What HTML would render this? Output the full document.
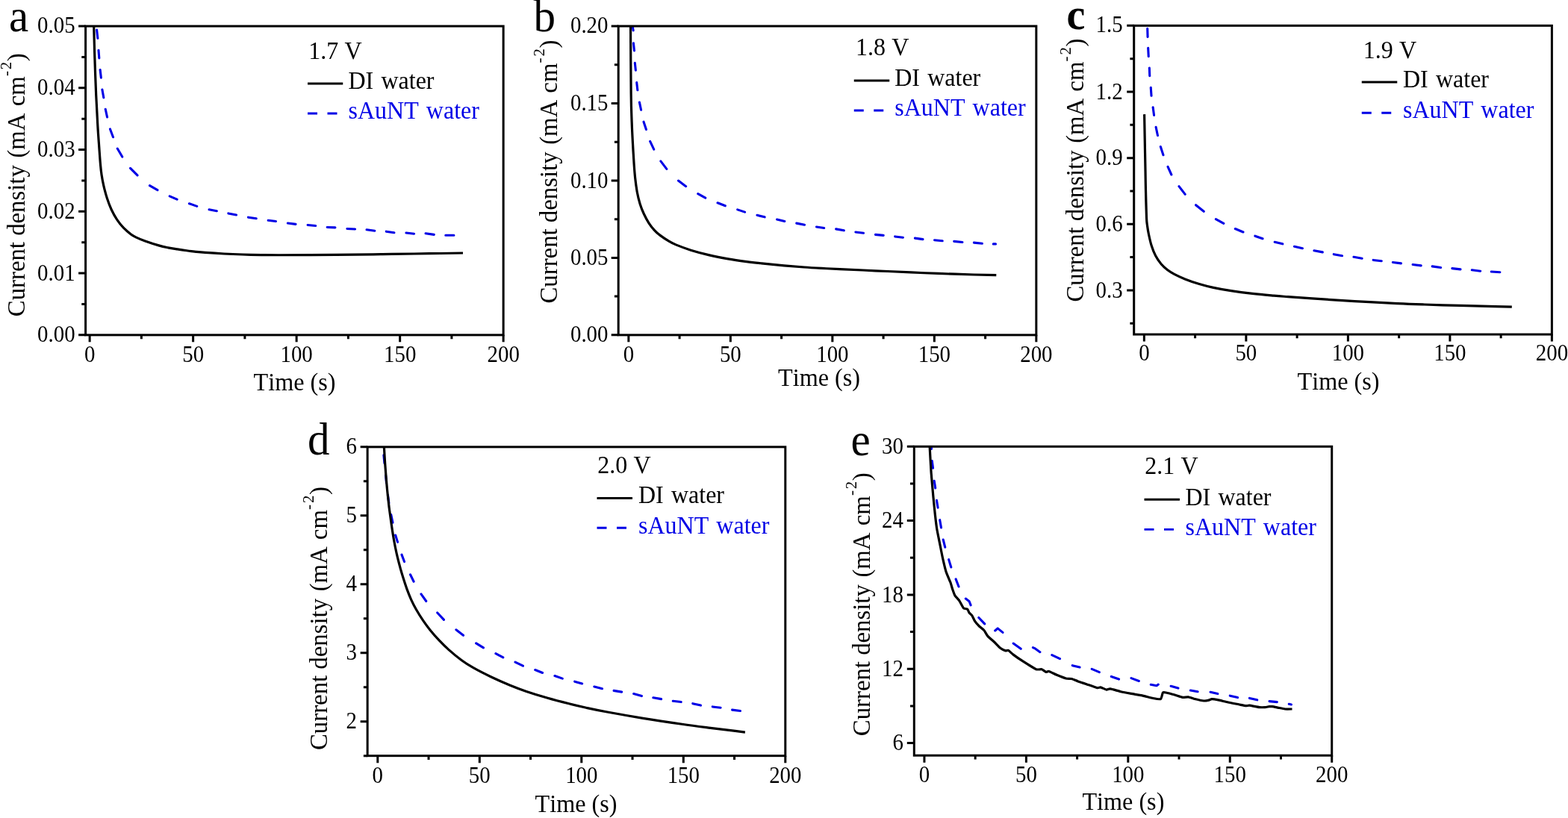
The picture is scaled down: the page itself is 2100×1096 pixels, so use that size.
<!DOCTYPE html>
<html lang="en"><head><meta charset="utf-8"><title>Current density vs time</title>
<style>
html,body{margin:0;padding:0;background:#fff;}
body{width:2100px;height:1096px;overflow:hidden;position:relative;}
svg{display:block;position:absolute;left:0;top:0;}
text{font-family:"Liberation Serif", "DejaVu Serif", serif;fill:#000;font-kerning:none;}
.tk{font-size:28.9px;}
.ax{font-size:32.2px;}
.ay{font-size:32.8px;word-spacing:0px;}
.lg{font-size:32px;word-spacing:2.2px;}
.pl{font-size:59px;}
.bl{fill:#0000e6;}
</style></head><body>
<svg xmlns="http://www.w3.org/2000/svg" width="2100" height="1096" viewBox="0 0 2100 1096">
<rect x="0" y="0" width="2100" height="1096" fill="#fff"/>
<g id="panel-a">
<clipPath id="clip-a"><rect x="114.6" y="35.05" width="559.55" height="413.8"/></clipPath>
<g clip-path="url(#clip-a)" fill="none" stroke-linejoin="round">
<path d="M129.62,40.09L130.88,51.31M131.99,67.3L132.81,77.9M134.13,93.49L135.37,104.11M136.89,120.08L138.81,130.82M141.23,146.27L143.57,157.03M147.48,172.93L151.52,183.77M157.26,199.05L163.74,210.05M174.57,225.38L184.03,234.92M200.45,248.65L210.95,254.65M227.21,262.84L237.09,267.16M253.44,272.76L263.76,276.34M280.08,280.71L290.32,282.69M305.88,285.9L316.52,287.9M332.49,291.16L343.21,292.74M359.19,295.32L369.41,296.48M385.39,299.04L396.01,300.36M412.1,301.5L422.7,302.5M438.2,304.44L448.9,304.86M464.9,306.55L475.6,307.05M491.09,307.75L501.81,309.25M517.29,310.16L527.91,311.74M543.99,312.02L554.61,313.18M570.09,312.75L581.31,314.35M596.8,315.2L607.9,315.2" stroke="#0000e6" stroke-width="3.1" stroke-linecap="round"/>
<path d="M125.6,30 C125.62,30.95 125.5,27.77 125.72,35.7 C125.93,43.63 126.37,62.38 126.87,77.59 C127.36,92.81 128.03,111.92 128.69,127 C129.35,142.08 130.14,156.46 130.82,168.08 C131.49,179.7 132.14,188.06 132.75,196.71 C133.36,205.36 133.91,213.73 134.47,219.99 C135.02,226.24 135.35,229.48 136.07,234.25 C136.79,239.01 137.57,243.34 138.78,248.56 C139.99,253.78 141.61,260.2 143.35,265.56 C145.08,270.92 146.97,275.98 149.18,280.73 C151.39,285.47 153.89,289.97 156.59,294.04 C159.29,298.11 162.24,301.82 165.38,305.14 C168.53,308.46 172.67,311.83 175.44,313.95 C178.22,316.06 178.87,316.33 182.03,317.84 C185.19,319.35 189.32,321.16 194.41,323 C199.51,324.84 207.5,327.41 212.6,328.88 C217.7,330.35 220.88,330.98 225.03,331.82 C229.19,332.66 233.35,333.28 237.51,333.94 C241.67,334.59 245.83,335.19 250,335.75 C254.17,336.31 258.35,336.86 262.52,337.31 C266.69,337.77 268.75,338.01 275,338.46 C281.25,338.91 291.68,339.58 300.01,340 C308.35,340.42 316.67,340.74 325,341 C333.33,341.26 341.67,341.44 350,341.56 C358.34,341.69 358.33,341.77 375,341.75 C391.67,341.73 429.16,341.61 450,341.45 C470.83,341.29 487.5,340.97 500,340.8 C512.5,340.63 512.5,340.59 525,340.41 C537.5,340.23 559.17,339.94 575,339.71 C590.83,339.47 612.5,339.12 620,339" stroke="#000" stroke-width="3.2"/>
</g>
<rect x="114.6" y="35.05" width="559.55" height="413.8" stroke="#000" stroke-width="3" fill="none"/>
<path d="M120.14,448.85v9.5M258.64,448.85v9.5M397.14,448.85v9.5M535.65,448.85v9.5M674.15,448.85v9.5M189.39,448.85v5.3M327.89,448.85v5.3M466.4,448.85v5.3M604.9,448.85v5.3M114.6,35.05h-9.5M114.6,117.81h-9.5M114.6,200.57h-9.5M114.6,283.33h-9.5M114.6,366.09h-9.5M114.6,448.85h-9.5M114.6,76.43h-5.3M114.6,159.19h-5.3M114.6,241.95h-5.3M114.6,324.71h-5.3M114.6,407.47h-5.3" stroke="#000" stroke-width="3" fill="none"/>
<text class="tk" transform="translate(120.14,484.5) scale(1,1.09)" text-anchor="middle">0</text>
<text class="tk" transform="translate(258.64,484.5) scale(1,1.09)" text-anchor="middle">50</text>
<text class="tk" transform="translate(397.14,484.5) scale(1,1.09)" text-anchor="middle">100</text>
<text class="tk" transform="translate(535.65,484.5) scale(1,1.09)" text-anchor="middle">150</text>
<text class="tk" transform="translate(674.15,484.5) scale(1,1.09)" text-anchor="middle">200</text>
<text class="tk" transform="translate(100.6,43.65) scale(1,1.09)" text-anchor="end">0.05</text>
<text class="tk" transform="translate(100.6,127.41) scale(1,1.09)" text-anchor="end">0.04</text>
<text class="tk" transform="translate(100.6,210.17) scale(1,1.09)" text-anchor="end">0.03</text>
<text class="tk" transform="translate(100.6,292.93) scale(1,1.09)" text-anchor="end">0.02</text>
<text class="tk" transform="translate(100.6,375.69) scale(1,1.09)" text-anchor="end">0.01</text>
<text class="tk" transform="translate(100.6,458.45) scale(1,1.09)" text-anchor="end">0.00</text>
<text class="ax" transform="translate(394.5,522.75) scale(1,1.06)" text-anchor="middle">Time (s)</text>
<text class="ay" transform="translate(32.5,424.2) rotate(-90) scale(1,1.06)">Current density <tspan dx="1.4">(mA </tspan><tspan dx="0.9">cm</tspan><tspan font-size="20.66px" dy="-16.7" dx="0.2">-</tspan><tspan font-size="20.66px" dx="1.9">2</tspan><tspan dy="16.7" dx="0.8">)</tspan></text>
<text class="lg" transform="translate(413.3,78.75) scale(1,1.03)" style="word-spacing:0.3px">1.7 V</text>
<path d="M412,112H459.25" stroke="#000" stroke-width="2.8" fill="none"/>
<text class="lg" transform="translate(466.5,118.75) scale(1,1.03)">DI water</text>
<path d="M412,152H459.25" stroke="#0000e6" stroke-width="2.8" stroke-dasharray="13 13.5" fill="none"/>
<text class="lg bl" transform="translate(466.5,159.25) scale(1,1.03)">sAuNT water</text>
<text class="pl" transform="translate(12,41.7) scale(1,1.04)">a</text>
</g>
<g id="panel-b">
<clipPath id="clip-b"><rect x="828.2" y="35" width="559.65" height="413.85"/></clipPath>
<g clip-path="url(#clip-b)" fill="none" stroke-linejoin="round">
<path d="M846.98,34.08L848.12,40.82M848.42,57.79L849.48,67.91M850.32,84.39L851.38,94.11M852.72,110.59L853.88,120.81M856.43,137.08L858.57,147.22M862.05,163.14L865.45,173.46M870.66,189.3L875.74,200.2M884.86,215.88L892.84,226.42M908.48,242.06L918.62,249.64M934.76,259.54L944.74,265.16M961.03,271.8L971.37,275.8M987.74,280.85L997.56,284.15M1013.97,288.36L1024.13,290.84M1040.57,294.05L1050.83,296.45M1066.78,299.11L1077.52,301.19M1093.49,303.97L1103.71,305.53M1119.68,306.89L1130.32,308.81M1145.89,310.94L1156.51,312.26M1172.5,314.4L1183.2,315.4M1198.69,316.93L1209.41,318.17M1225.39,319.15L1236.01,320.65M1251.59,321.71L1262.21,322.79M1277.79,323.41L1288.91,324.49M1304.39,325.12L1315.41,326.28M1330.3,326.9L1333.5,326.9" stroke="#0000e6" stroke-width="3.1" stroke-linecap="round"/>
<path d="M844.5,30 C844.5,30.83 844.4,19.17 844.51,35 C844.61,50.83 844.86,103.64 845.13,124.99 C845.4,146.34 845.73,151.98 846.12,163.09 C846.51,174.21 846.95,182.21 847.45,191.7 C847.95,201.18 848.58,212.11 849.13,219.99 C849.67,227.87 850.01,232.64 850.72,238.98 C851.43,245.31 852.34,252.31 853.41,258 C854.48,263.7 855.66,268.41 857.15,273.16 C858.63,277.91 860.34,282.24 862.31,286.51 C864.28,290.78 866.55,295.03 868.96,298.77 C871.38,302.51 874.31,306.2 876.79,308.92 C879.27,311.65 880.73,312.81 883.84,315.14 C886.95,317.47 891.89,320.78 895.44,322.91 C898.99,325.03 900.2,325.84 905.16,327.89 C910.12,329.93 917.7,332.83 925.18,335.17 C932.67,337.5 941.77,339.94 950.08,341.89 C958.39,343.85 966.74,345.44 975.06,346.89 C983.39,348.33 992.53,349.57 1000.02,350.57 C1007.51,351.57 1011.67,352 1020,352.88 C1028.33,353.75 1040.52,354.97 1050.02,355.82 C1059.52,356.67 1068.68,357.4 1077.01,358 C1085.34,358.59 1092.04,358.95 1100.01,359.38 C1107.97,359.81 1112.73,360.02 1124.8,360.58 C1136.86,361.15 1156.54,362.05 1172.41,362.78 C1188.27,363.5 1205.94,364.31 1219.99,364.92 C1234.05,365.54 1242.66,365.96 1256.71,366.47 C1270.76,366.98 1291.37,367.63 1304.3,367.98 C1317.23,368.34 1329.3,368.5 1334.3,368.6" stroke="#000" stroke-width="3.2"/>
</g>
<rect x="828.2" y="35" width="559.65" height="413.85" stroke="#000" stroke-width="3" fill="none"/>
<path d="M841.85,448.85v9.5M978.35,448.85v9.5M1114.85,448.85v9.5M1251.35,448.85v9.5M1387.85,448.85v9.5M910.1,448.85v5.3M1046.6,448.85v5.3M1183.1,448.85v5.3M1319.6,448.85v5.3M828.2,35h-9.5M828.2,138.46h-9.5M828.2,241.93h-9.5M828.2,345.39h-9.5M828.2,448.85h-9.5M828.2,86.73h-5.3M828.2,190.19h-5.3M828.2,293.66h-5.3M828.2,397.12h-5.3" stroke="#000" stroke-width="3" fill="none"/>
<text class="tk" transform="translate(841.85,484.5) scale(1,1.09)" text-anchor="middle">0</text>
<text class="tk" transform="translate(978.35,484.5) scale(1,1.09)" text-anchor="middle">50</text>
<text class="tk" transform="translate(1114.85,484.5) scale(1,1.09)" text-anchor="middle">100</text>
<text class="tk" transform="translate(1251.35,484.5) scale(1,1.09)" text-anchor="middle">150</text>
<text class="tk" transform="translate(1387.85,484.5) scale(1,1.09)" text-anchor="middle">200</text>
<text class="tk" transform="translate(814.5,44.2) scale(1,1.09)" text-anchor="end">0.20</text>
<text class="tk" transform="translate(814.5,148.06) scale(1,1.09)" text-anchor="end">0.15</text>
<text class="tk" transform="translate(814.5,251.53) scale(1,1.09)" text-anchor="end">0.10</text>
<text class="tk" transform="translate(814.5,354.99) scale(1,1.09)" text-anchor="end">0.05</text>
<text class="tk" transform="translate(814.5,458.45) scale(1,1.09)" text-anchor="end">0.00</text>
<text class="ax" transform="translate(1097,516.5) scale(1,1.06)" text-anchor="middle">Time (s)</text>
<text class="ay" transform="translate(746.25,406.5) rotate(-90) scale(1,1.06)">Current density <tspan dx="1.4">(mA </tspan><tspan dx="0.9">cm</tspan><tspan font-size="20.66px" dy="-16.7" dx="0.2">-</tspan><tspan font-size="20.66px" dx="1.9">2</tspan><tspan dy="16.7" dx="0.8">)</tspan></text>
<text class="lg" transform="translate(1146.05,74.25) scale(1,1.03)" style="word-spacing:0.3px">1.8 V</text>
<path d="M1143.75,108H1191.25" stroke="#000" stroke-width="2.8" fill="none"/>
<text class="lg" transform="translate(1198.25,114.5) scale(1,1.03)">DI water</text>
<path d="M1143.75,148H1191.25" stroke="#0000e6" stroke-width="2.8" stroke-dasharray="13 13.5" fill="none"/>
<text class="lg bl" transform="translate(1198.25,155) scale(1,1.03)">sAuNT water</text>
<text class="pl" transform="translate(714.5,42) scale(1,1.04)">b</text>
</g>
<g id="panel-c">
<clipPath id="clip-c"><rect x="1518.7" y="34.35" width="559.7" height="413.7"/></clipPath>
<g clip-path="url(#clip-c)" fill="none" stroke-linejoin="round">
<path d="M1536.73,38.2L1537.07,49.4M1537.66,64.4L1538.24,75.6M1539.34,91.1L1539.76,101.8M1541.27,117.3L1542.03,128.3M1544.14,143.69L1545.56,154.41M1548.13,170.38L1550.47,181.52M1554.34,196.55L1557.96,207.75M1564.05,223.4L1568.85,234M1578.97,249.67L1587.23,260.33M1601.56,274.69L1612.24,283.31M1628.37,293.62L1638.83,299.28M1654.32,306.52L1664.98,310.98M1680.84,316.17L1691.06,319.83M1707.17,324.26L1717.83,326.84M1733.47,330.24L1744.43,332.66M1759.98,335.71L1771.32,337.89M1786.28,340.69L1797.52,342.71M1812.98,344.29L1824.12,346.21M1839.19,348.42L1850.31,349.68M1865.39,351.44L1876.51,352.86M1892.09,354.44L1903.21,355.86M1918.19,356.85L1929.61,358.45M1944.89,359.62L1956.01,360.88M1971.29,361.83L1982.71,363.17M1997.3,364.06L2008.9,364.74" stroke="#0000e6" stroke-width="3.1" stroke-linecap="round"/>
<path d="M1532.6,153.1 C1532.69,157.93 1532.88,169.48 1533.12,182.1 C1533.35,194.72 1533.79,216.97 1534.01,228.8 C1534.23,240.63 1534.2,242.71 1534.44,253.1 C1534.69,263.5 1535.15,283.02 1535.49,291.17 C1535.83,299.31 1535.96,298.14 1536.47,301.99 C1536.98,305.84 1537.57,309.7 1538.53,314.26 C1539.49,318.81 1540.73,324.62 1542.24,329.34 C1543.74,334.05 1545.43,338.48 1547.58,342.55 C1549.72,346.62 1552.47,350.61 1555.11,353.77 C1557.75,356.93 1560.46,359.23 1563.4,361.48 C1566.35,363.74 1568.81,365.24 1572.76,367.31 C1576.7,369.37 1581.51,371.68 1587.07,373.89 C1592.63,376.09 1599.8,378.64 1606.13,380.55 C1612.47,382.46 1617.95,383.84 1625.07,385.36 C1632.19,386.89 1640.12,388.35 1648.85,389.7 C1657.58,391.05 1667.91,392.38 1677.44,393.45 C1686.96,394.53 1698.08,395.45 1706,396.14 C1713.93,396.83 1716.48,396.98 1725,397.61 C1733.52,398.24 1742.22,398.92 1757.11,399.91 C1771.99,400.91 1795.26,402.47 1814.31,403.58 C1833.36,404.69 1855.86,405.83 1871.41,406.57 C1886.95,407.3 1893.64,407.52 1907.6,408 C1921.57,408.49 1940.92,409.06 1955.2,409.47 C1969.48,409.88 1981.7,410.18 1993.3,410.47 C2004.9,410.75 2019.55,411.08 2024.8,411.2" stroke="#000" stroke-width="3.2"/>
</g>
<rect x="1518.7" y="34.35" width="559.7" height="413.7" stroke="#000" stroke-width="3" fill="none"/>
<path d="M1532.35,448.05v9.5M1668.86,448.05v9.5M1805.38,448.05v9.5M1941.89,448.05v9.5M2078.4,448.05v9.5M1600.61,448.05v5.3M1737.12,448.05v5.3M1873.63,448.05v5.3M2010.14,448.05v5.3M1518.7,34.35h-9.5M1518.7,123h-9.5M1518.7,211.65h-9.5M1518.7,300.3h-9.5M1518.7,388.95h-9.5M1518.7,78.67h-5.3M1518.7,167.32h-5.3M1518.7,255.97h-5.3M1518.7,344.62h-5.3M1518.7,433.3h-5.3" stroke="#000" stroke-width="3" fill="none"/>
<text class="tk" transform="translate(1532.35,483.2) scale(1,1.09)" text-anchor="middle">0</text>
<text class="tk" transform="translate(1668.86,483.2) scale(1,1.09)" text-anchor="middle">50</text>
<text class="tk" transform="translate(1805.38,483.2) scale(1,1.09)" text-anchor="middle">100</text>
<text class="tk" transform="translate(1941.89,483.2) scale(1,1.09)" text-anchor="middle">150</text>
<text class="tk" transform="translate(2078.4,483.2) scale(1,1.09)" text-anchor="middle">200</text>
<text class="tk" transform="translate(1503.7,43.35) scale(1,1.09)" text-anchor="end">1.5</text>
<text class="tk" transform="translate(1503.7,132.6) scale(1,1.09)" text-anchor="end">1.2</text>
<text class="tk" transform="translate(1503.7,221.25) scale(1,1.09)" text-anchor="end">0.9</text>
<text class="tk" transform="translate(1503.7,309.9) scale(1,1.09)" text-anchor="end">0.6</text>
<text class="tk" transform="translate(1503.7,398.55) scale(1,1.09)" text-anchor="end">0.3</text>
<text class="ax" transform="translate(1792.5,522) scale(1,1.06)" text-anchor="middle">Time (s)</text>
<text class="ay" transform="translate(1451.25,404.5) rotate(-90) scale(1,1.06)">Current density <tspan dx="1.4">(mA </tspan><tspan dx="0.9">cm</tspan><tspan font-size="20.66px" dy="-16.7" dx="0.2">-</tspan><tspan font-size="20.66px" dx="1.9">2</tspan><tspan dy="16.7" dx="0.8">)</tspan></text>
<text class="lg" transform="translate(1825.8,78) scale(1,1.03)" style="word-spacing:0.3px">1.9 V</text>
<path d="M1823.75,110H1871.25" stroke="#000" stroke-width="2.8" fill="none"/>
<text class="lg" transform="translate(1879,117) scale(1,1.03)">DI water</text>
<path d="M1823.75,151.25H1871.25" stroke="#0000e6" stroke-width="2.8" stroke-dasharray="13 13.5" fill="none"/>
<text class="lg bl" transform="translate(1879,158) scale(1,1.03)">sAuNT water</text>
<text class="pl" transform="translate(1428.5,38.5) scale(1,1.04)" font-weight="bold" style="font-size:56px">c</text>
</g>
<g id="panel-d">
<clipPath id="clip-d"><rect x="492.15" y="598.85" width="559.65" height="413.8"/></clipPath>
<g clip-path="url(#clip-d)" fill="none" stroke-linejoin="round">
<path d="M513.9,609.9L514.9,620.6M516.59,636.6L517.51,647.2M519.44,663.19L520.86,673.91M523.73,689.58L525.97,700.12M529.63,717.05L532.57,726.35M537.99,743.13L541.51,752.57M549.48,769.79L554.12,779.21M563.94,795.9L570.76,805.5M585.75,821.01L594.45,830.39M610.87,843.78L620.53,851.32M637.64,861.88L647.46,867.92M663.87,875.61L673.83,880.89M689.99,887.18L700.41,892.22M716.72,897.51L726.58,901.49M742.94,905.56L753.26,909.14M769.66,913.19L779.64,915.91M795.87,919.97L806.53,922.63M822.09,925.38L832.71,927.12M848.66,929.5L859.44,932.6M874.88,934.78L885.62,936.62M901.29,939.33L912.21,940.57M927.77,942.64L938.43,945.06M954.29,946.93L965.11,948.17M980.59,951.13L991.51,952.47" stroke="#0000e6" stroke-width="3.1" stroke-linecap="round"/>
<path d="M514.2,594 C514.24,594.97 514.17,594.86 514.45,599.79 C514.73,604.73 515.26,614.88 515.88,623.59 C516.5,632.3 517.37,643.32 518.17,652.05 C518.97,660.78 520.07,670.48 520.68,675.98 C521.29,681.47 521.19,680.34 521.82,685.01 C522.45,689.68 523.52,697.64 524.46,703.98 C525.4,710.32 526.33,716.71 527.46,723.04 C528.58,729.37 529.79,735.59 531.24,741.93 C532.68,748.27 534.59,755.51 536.11,761.08 C537.62,766.65 538.86,770.68 540.33,775.35 C541.8,780.02 543.21,784.43 544.92,789.09 C546.64,793.75 548.56,798.74 550.63,803.32 C552.7,807.89 554.65,811.81 557.34,816.54 C560.04,821.26 563.68,827.07 566.81,831.68 C569.93,836.29 572.63,839.89 576.1,844.18 C579.57,848.46 583.51,853.05 587.63,857.41 C591.74,861.78 595.73,865.85 600.79,870.37 C605.86,874.88 612.49,880.42 618.01,884.47 C623.52,888.53 627.31,890.99 633.86,894.69 C640.41,898.4 649.05,902.8 657.28,906.72 C665.51,910.64 675.27,914.93 683.23,918.21 C691.18,921.5 696.64,923.58 705.03,926.43 C713.42,929.27 724.07,932.57 733.55,935.3 C743.03,938.03 753.34,940.66 761.92,942.81 C770.51,944.97 776.47,946.36 785.06,948.23 C793.65,950.1 800.78,951.68 813.45,954.03 C826.12,956.37 844.45,959.61 861.09,962.31 C877.74,965.01 898.28,968.05 913.34,970.21 C928.4,972.38 939.54,973.77 951.45,975.31 C963.35,976.85 977.03,978.48 984.77,979.44 C992.51,980.41 995.71,980.82 997.9,981.1" stroke="#000" stroke-width="3.2"/>
</g>
<rect x="492.15" y="598.85" width="559.65" height="413.8" stroke="#000" stroke-width="3" fill="none"/>
<path d="M505.8,1012.65v9.5M642.3,1012.65v9.5M778.8,1012.65v9.5M915.3,1012.65v9.5M1051.8,1012.65v9.5M574.05,1012.65v5.3M710.55,1012.65v5.3M847.05,1012.65v5.3M983.55,1012.65v5.3M492.15,598.85h-9.5M492.15,690.81h-9.5M492.15,782.78h-9.5M492.15,874.74h-9.5M492.15,966.7h-9.5M492.15,644.83h-5.3M492.15,736.79h-5.3M492.15,828.76h-5.3M492.15,920.72h-5.3M492.15,1012.65h-5.3" stroke="#000" stroke-width="3" fill="none"/>
<text class="tk" transform="translate(505.8,1048.7) scale(1,1.09)" text-anchor="middle">0</text>
<text class="tk" transform="translate(642.3,1048.7) scale(1,1.09)" text-anchor="middle">50</text>
<text class="tk" transform="translate(778.8,1048.7) scale(1,1.09)" text-anchor="middle">100</text>
<text class="tk" transform="translate(915.3,1048.7) scale(1,1.09)" text-anchor="middle">150</text>
<text class="tk" transform="translate(1051.8,1048.7) scale(1,1.09)" text-anchor="middle">200</text>
<text class="tk" transform="translate(478,608.05) scale(1,1.09)" text-anchor="end">6</text>
<text class="tk" transform="translate(478,700.41) scale(1,1.09)" text-anchor="end">5</text>
<text class="tk" transform="translate(478,792.38) scale(1,1.09)" text-anchor="end">4</text>
<text class="tk" transform="translate(478,884.34) scale(1,1.09)" text-anchor="end">3</text>
<text class="tk" transform="translate(478,976.3) scale(1,1.09)" text-anchor="end">2</text>
<text class="ax" transform="translate(771.5,1087.5) scale(1,1.06)" text-anchor="middle">Time (s)</text>
<text class="ay" transform="translate(437.5,1005) rotate(-90) scale(1,1.06)">Current density <tspan dx="1.4">(mA </tspan><tspan dx="0.9">cm</tspan><tspan font-size="20.66px" dy="-16.7" dx="0.2">-</tspan><tspan font-size="20.66px" dx="1.9">2</tspan><tspan dy="16.7" dx="0.8">)</tspan></text>
<text class="lg" transform="translate(800.3,634.25) scale(1,1.03)" style="word-spacing:0.3px">2.0 V</text>
<path d="M799.5,667.5H847" stroke="#000" stroke-width="2.8" fill="none"/>
<text class="lg" transform="translate(855,674.25) scale(1,1.03)">DI water</text>
<path d="M799.5,707.25H847" stroke="#0000e6" stroke-width="2.8" stroke-dasharray="13 13.5" fill="none"/>
<text class="lg bl" transform="translate(855,714.75) scale(1,1.03)">sAuNT water</text>
<text class="pl" transform="translate(412,608.5) scale(1,1.04)">d</text>
</g>
<g id="panel-e">
<clipPath id="clip-e"><rect x="1224.3" y="598.3" width="559.4" height="413.9"/></clipPath>
<g clip-path="url(#clip-e)" fill="none" stroke-linejoin="round">
<path d="M1247.2,598.1L1247.5,601.5M1248.25,617.49L1249.55,627.21M1251.17,644.19L1252.73,653.91M1254.47,670.39L1256.03,680.11M1258.69,696.68L1260.51,707.02M1263.17,722.97L1265.73,733.23M1270.62,749.65L1273.78,759.95M1280.1,775.83L1284,785.97M1293.28,802.06L1298.1,805.7L1300.1,810.87M1310.76,827.5L1318.74,835.9M1332.72,844.97L1336.2,841.9L1342.95,847.4M1357.09,862.04L1367.21,869.36M1383.4,867.56L1385.7,868.6L1392.9,873.67M1408.79,877.57L1419.51,882.63M1436.27,891.66L1446.03,894.04M1462.22,896.42L1472.38,900.58M1488.34,906.46L1498.56,910.04M1515.03,908.59L1525.37,912.51M1541.28,917.22L1549,918.8L1551.32,917.06M1568.16,919.3L1577.94,922.1M1594.38,925L1604.12,926.8M1621.07,927.34L1630.83,929.56M1647.27,932.15L1657.53,934.55M1673.47,935.45L1683.73,937.85M1700.09,939.61L1710.31,940.59M1726.28,943.3L1729.42,943.9" stroke="#0000e6" stroke-width="3.1" stroke-linecap="round"/>
<path d="M1245,594 C1245.02,594.48 1245.03,596.54 1245.2,599.8 C1245.38,603.06 1246.7,627.55 1247.1,633.1 C1247.5,638.65 1249.56,661.66 1250,666.4 C1250.44,671.14 1252,686.45 1252.4,690 C1252.8,693.55 1254.28,705.83 1254.8,709 C1255.32,712.17 1257.97,724.93 1258.6,728.1 C1259.23,731.27 1261.69,743.93 1262.4,747.1 C1263.11,750.27 1266.22,763.43 1267.1,766.2 C1267.97,768.97 1272.18,778.36 1272.9,780.3 C1273.62,782.24 1275.19,788.02 1275.7,789.5 C1276.21,790.98 1278.24,796.83 1279,798.1 C1279.76,799.38 1283.84,803.41 1284.8,804.8 C1285.76,806.19 1289.59,813.85 1290.5,814.8 C1291.41,815.75 1295.07,815.68 1295.7,816.2 C1296.33,816.72 1297.58,820.28 1298.1,821 C1298.62,821.72 1301.27,823.85 1301.9,824.8 C1302.53,825.75 1304.91,831.22 1305.7,832.4 C1306.49,833.58 1310.37,837.97 1311.4,839 C1312.43,840.03 1317.14,843.68 1318.1,844.8 C1319.06,845.92 1321.79,851.13 1322.9,852.4 C1324.01,853.67 1329.98,858.65 1331.4,860 C1332.83,861.35 1338.72,867.61 1340,868.6 C1341.28,869.59 1345.83,871.67 1346.7,871.9 C1347.58,872.13 1349.63,870.97 1350.5,871.4 C1351.37,871.83 1355.52,875.91 1357.1,877.1 C1358.68,878.29 1366.96,884.07 1369.5,885.7 C1372.04,887.33 1385.46,895.78 1387.6,896.7 C1389.74,897.62 1394.08,896.38 1395.2,896.7 C1396.32,897.02 1400.2,900.27 1401,900.5 C1401.8,900.73 1403.62,899.18 1404.8,899.5 C1405.98,899.82 1413.3,903.51 1415.2,904.3 C1417.1,905.09 1425.93,908.57 1427.6,909 C1429.27,909.43 1433.85,909.17 1435.2,909.5 C1436.55,909.83 1442.13,912.3 1443.8,912.9 C1445.47,913.5 1453.07,915.98 1455.2,916.7 C1457.33,917.43 1467.83,921.25 1469.4,921.6 C1470.97,921.95 1472.95,920.69 1474,920.9 C1475.05,921.11 1480.92,923.93 1482,924.1 C1483.08,924.27 1485.4,922.68 1487,922.9 C1488.6,923.12 1498.87,926.16 1501.2,926.7 C1503.53,927.24 1512.56,928.95 1515,929.4 C1517.44,929.85 1528.08,931.59 1530.5,932.1 C1532.92,932.61 1542,935.13 1544,935.5 C1546,935.87 1553.38,937.12 1554.5,936.5 C1555.62,935.88 1556.81,928.71 1557.4,928 C1557.99,927.29 1560.27,927.75 1561.6,928 C1562.92,928.25 1571.45,930.48 1573.3,931 C1575.15,931.52 1582.29,934.07 1583.8,934.3 C1585.31,934.53 1590.13,933.64 1591.4,933.8 C1592.67,933.96 1597.25,935.77 1599,936.2 C1600.75,936.63 1610.73,938.84 1612.4,939 C1614.07,939.16 1618.12,938.29 1619,938.1 C1619.88,937.91 1621.94,936.74 1622.9,936.7 C1623.86,936.66 1628.67,937.24 1630.5,937.6 C1632.33,937.96 1642.42,940.48 1644.8,941 C1647.17,941.52 1657.02,943.41 1659,943.8 C1660.98,944.19 1667.41,945.58 1668.6,945.7 C1669.79,945.82 1671.79,945.04 1673.3,945.2 C1674.81,945.36 1684.95,947.4 1686.7,947.6 C1688.45,947.8 1693.19,947.68 1694.3,947.6 C1695.41,947.52 1699.21,946.78 1700,946.7 C1700.79,946.62 1702.85,946.58 1703.8,946.7 C1704.75,946.82 1709.97,947.83 1711.4,948.1 C1712.83,948.38 1719.41,949.84 1721,950 C1722.59,950.16 1729.71,950 1730.5,950" stroke="#000" stroke-width="3.2"/>
</g>
<rect x="1224.3" y="598.3" width="559.4" height="413.9" stroke="#000" stroke-width="3" fill="none"/>
<path d="M1237.95,1012.2v9.5M1374.39,1012.2v9.5M1510.83,1012.2v9.5M1647.26,1012.2v9.5M1783.7,1012.2v9.5M1306.17,1012.2v5.3M1442.61,1012.2v5.3M1579.04,1012.2v5.3M1715.48,1012.2v5.3M1224.3,598.3h-9.5M1224.3,697.62h-9.5M1224.3,796.95h-9.5M1224.3,896.27h-9.5M1224.3,995.6h-9.5M1224.3,647.96h-5.3M1224.3,747.29h-5.3M1224.3,846.61h-5.3M1224.3,945.94h-5.3" stroke="#000" stroke-width="3" fill="none"/>
<text class="tk" transform="translate(1237.95,1048.2) scale(1,1.09)" text-anchor="middle">0</text>
<text class="tk" transform="translate(1374.39,1048.2) scale(1,1.09)" text-anchor="middle">50</text>
<text class="tk" transform="translate(1510.83,1048.2) scale(1,1.09)" text-anchor="middle">100</text>
<text class="tk" transform="translate(1647.26,1048.2) scale(1,1.09)" text-anchor="middle">150</text>
<text class="tk" transform="translate(1783.7,1048.2) scale(1,1.09)" text-anchor="middle">200</text>
<text class="tk" transform="translate(1210,607.5) scale(1,1.09)" text-anchor="end">30</text>
<text class="tk" transform="translate(1210,707.23) scale(1,1.09)" text-anchor="end">24</text>
<text class="tk" transform="translate(1210,806.55) scale(1,1.09)" text-anchor="end">18</text>
<text class="tk" transform="translate(1210,905.88) scale(1,1.09)" text-anchor="end">12</text>
<text class="tk" transform="translate(1210,1005.2) scale(1,1.09)" text-anchor="end">6</text>
<text class="ax" transform="translate(1504.4,1084.5) scale(1,1.06)" text-anchor="middle">Time (s)</text>
<text class="ay" transform="translate(1164.5,986.2) rotate(-90) scale(1,1.06)">Current density <tspan dx="1.4">(mA </tspan><tspan dx="0.9">cm</tspan><tspan font-size="20.66px" dy="-16.7" dx="0.2">-</tspan><tspan font-size="20.66px" dx="1.9">2</tspan><tspan dy="16.7" dx="0.8">)</tspan></text>
<text class="lg" transform="translate(1533.2,634.9) scale(1,1.03)" style="word-spacing:0.3px">2.1 V</text>
<path d="M1532.5,669.25H1580" stroke="#000" stroke-width="2.8" fill="none"/>
<text class="lg" transform="translate(1587.5,676.5) scale(1,1.03)">DI water</text>
<path d="M1532.5,709.45H1580" stroke="#0000e6" stroke-width="2.8" stroke-dasharray="13 13.5" fill="none"/>
<text class="lg bl" transform="translate(1587.5,716.6) scale(1,1.03)">sAuNT water</text>
<text class="pl" transform="translate(1139.5,610) scale(1,1.04)">e</text>
</g>
</svg>
</body></html>
